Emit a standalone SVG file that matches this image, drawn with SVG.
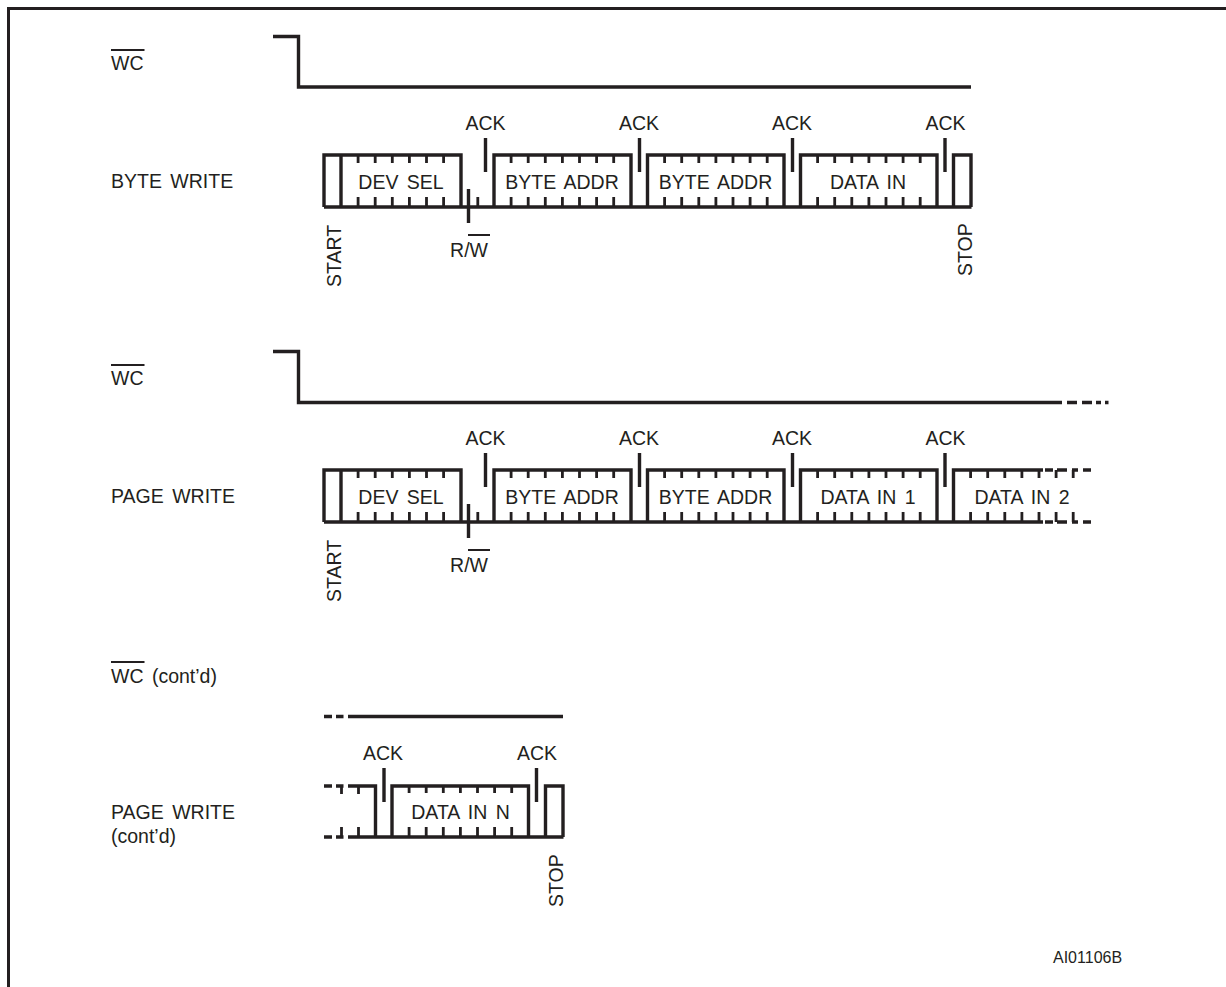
<svg xmlns="http://www.w3.org/2000/svg" width="1226" height="987" viewBox="0 0 1226 987">
<style>
text{font-family:"Liberation Sans",Arial,sans-serif;font-size:19.5px;fill:#231f20}
.c{text-anchor:middle}
.f{word-spacing:3px}
.s{font-size:16px}
path,line{fill:none;stroke:#231f20;stroke-width:3.4}
.o{stroke-width:2}
.t{stroke-width:2.8}
</style>
<defs>
<path id="ticks" class="t" d="M17.1 0v8M34.2 0v8M51.3 0v8M68.4 0v8M85.500 0v8M102.600 0v8M119.700 0v8M17.1 52v-10M34.2 52v-10M51.3 52v-10M68.4 52v-10M85.500 52v-10M102.600 52v-10M119.700 52v-10"/>
<path id="ticks6" class="t" d="M17.1 0v8M34.2 0v8M51.3 0v8M68.4 0v8M85.500 0v8M102.600 0v8M17.1 52v-10M34.2 52v-10M51.3 52v-10M68.4 52v-10M85.500 52v-10M102.600 52v-10M136.800 52v-10"/>
</defs>
<rect width="1226" height="987" fill="#fff"/>
<path id="frame" style="stroke-width:3" d="M8.5 987V8.500H1226"/>

<g id="connectors">
<path d="M273 36.500H298.500V87H971"/>
<path d="M273 351.500H298.500V402.500H1062"/>
<path d="M1067 402.500H1077M1082 402.500H1092M1096 402.500H1101M1105 402.500H1108.500"/>
<path d="M324 716.500H332M336 716.500H343.500M348 716.500H563"/>
</g>

<g id="wc-1"><text x="111" y="70">WC</text><line class="o" x1="111" y1="50" x2="144.500" y2="50"/></g>
<g id="byte-write-label"><text class="f" x="111" y="188">BYTE WRITE</text></g>
<g id="byte-write">
<path d="M324 207H971.500M324 207V155H461V207M341 155V207M494 207V155H631V207M647.500 207V155H784V207M800.500 207V155H937V207M953.500 207V155H971V207"/>
<use href="#ticks6" x="341" y="155"/><use href="#ticks" x="494" y="155"/><use href="#ticks" x="647.500" y="155"/><use href="#ticks" x="800.500" y="155"/>
<path d="M485.500 138V172M639.500 138V172M792.500 138V172M945 138V172M468.500 189V223"/>
<text class="c f" x="401" y="189">DEV SEL</text>
<text class="c f" x="562" y="189">BYTE ADDR</text>
<text class="c f" x="715.500" y="189">BYTE ADDR</text>
<text class="c f" x="868" y="189">DATA IN</text>
<text class="c" x="485.500" y="130">ACK</text><text class="c" x="639" y="130">ACK</text><text class="c" x="792" y="130">ACK</text><text class="c" x="945.500" y="130">ACK</text>
<text class="c" x="469" y="257">R/W</text><line class="o" x1="468" y1="235" x2="490" y2="235"/>
<text transform="translate(341 287) rotate(-90)">START</text>
<text transform="translate(971.500 276) rotate(-90)">STOP</text>
</g>

<g id="wc-2"><text x="111" y="385">WC</text><line class="o" x1="111" y1="365" x2="144.500" y2="365"/></g>
<g id="page-write-label"><text class="f" x="111" y="503">PAGE WRITE</text></g>
<g id="page-write">
<path d="M324 522H1043M324 522V470H461V522M341 470V522M494 522V470H631V522M647.500 522V470H784V522M800.500 522V470H937V522M953.500 522V470H1043"/>
<path d="M1045 470H1053M1057 470H1067M1072 470H1078M1083 470H1091M1045 522H1053M1057 522H1067M1072 522H1078M1083 522H1091"/>
<use href="#ticks6" x="341" y="470"/><use href="#ticks" x="494" y="470"/><use href="#ticks" x="647.500" y="470"/><use href="#ticks" x="800.500" y="470"/><use href="#ticks" x="953.500" y="470"/>
<path d="M485.500 453V487M639.500 453V487M792.500 453V487M945 453V487M468.500 504V538"/>
<text class="c f" x="401" y="504">DEV SEL</text>
<text class="c f" x="562" y="504">BYTE ADDR</text>
<text class="c f" x="715.500" y="504">BYTE ADDR</text>
<text class="c f" x="868" y="504">DATA IN 1</text>
<text class="c f" x="1022" y="504">DATA IN 2</text>
<text class="c" x="485.500" y="445">ACK</text><text class="c" x="639" y="445">ACK</text><text class="c" x="792" y="445">ACK</text><text class="c" x="945.500" y="445">ACK</text>
<text class="c" x="469" y="572">R/W</text><line class="o" x1="468" y1="550" x2="490" y2="550"/>
<text transform="translate(341 602) rotate(-90)">START</text>
</g>

<g id="wc-3"><text class="f" x="111" y="683">WC (cont’d)</text><line class="o" x1="111" y1="662" x2="144.500" y2="662"/></g>
<g id="page-write-cont-label"><text class="f" x="111" y="819">PAGE WRITE</text><text x="111" y="843">(cont’d)</text></g>
<g id="page-write-cont">
<path d="M324 786H332M336 786H343.500M348 786H375.500V837M324 837H332M336 837H343.500M348 837H563.500M392 837V786H528.500V837M545.500 837V786H563V837"/>
<path class="t" d="M341.500 786V794M358.500 786V794M341.500 837V827M358.500 837V827"/>
<use href="#ticks" x="392" y="785"/>
<path d="M384 768V802M536.500 768V802"/>
<text class="c" x="383" y="760">ACK</text><text class="c" x="537" y="760">ACK</text>
<text class="c f" x="460.500" y="819">DATA IN N</text>
<text transform="translate(562.500 907) rotate(-90)">STOP</text>
</g>

<g id="ref"><text class="s" x="1053" y="963">AI01106B</text></g>
</svg>
